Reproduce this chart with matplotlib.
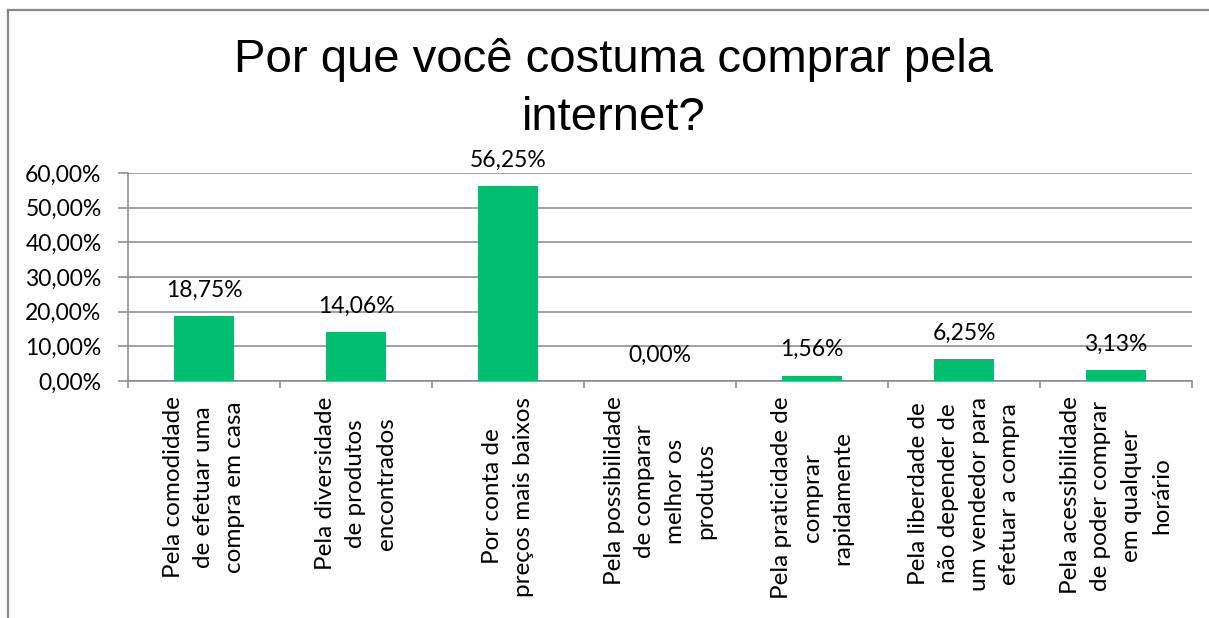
import numpy as np
import matplotlib
matplotlib.use("Agg")
import matplotlib.pyplot as plt
from matplotlib.lines import Line2D
from matplotlib.ticker import FuncFormatter

# dados do gráfico
categorias = [
    "Pela comodidade\nde efetuar uma\ncompra em casa",
    "Pela diversidade\nde produtos\nencontrados",
    "Por conta de\npreços mais baixos",
    "Pela possibilidade\nde comparar\nmelhor os\nprodutos",
    "Pela praticidade de\ncomprar\nrapidamente",
    "Pela liberdade de\nnão depender de\num vendedor para\nefetuar a compra",
    "Pela acessibilidade\nde poder comprar\nem qualquer\nhorário",
]
valores = [0.1875, 0.1406, 0.5625, 0.0, 0.0156, 0.0625, 0.0313]
rotulos = ["18,75%", "14,06%", "56,25%", "0,00%", "1,56%", "6,25%", "3,13%"]
titulo = "Por que você costuma comprar pela\ninternet?"

cor_barra = "#00BF6F"
cinza = "#868686"
fonte = ["Lato", "DejaVu Sans"]

fig = plt.figure(figsize=(12.09, 6.18), dpi=100)
ax = fig.add_axes([128 / 1209, 1 - 381 / 618, (1192 - 128) / 1209, (381 - 173) / 618])

x = np.arange(len(categorias))
ax.bar(x, valores, width=0.4, color=cor_barra, zorder=3)

# rótulos de dados
for xi, v, r in zip(x, valores, rotulos):
    ax.annotate(r, (xi, v), xytext=(0, 11), textcoords="offset points",
                ha="center", va="bottom", fontsize=16.5, family=fonte,
                color="#000000", annotation_clip=False)

ax.set_ylim(0, 0.6)
ax.set_xlim(-0.5, len(categorias) - 0.5)
ax.set_yticks(np.arange(0, 0.61, 0.1))
ax.yaxis.set_major_formatter(FuncFormatter(lambda v, p: f"{v * 100:.2f}%".replace(".", ",")))
ax.grid(axis="y", color=cinza, linewidth=1.1, zorder=0)
ax.tick_params(axis="y", length=7, width=1.1, color=cinza, labelsize=16.5, pad=12)
for lab in ax.get_yticklabels():
    lab.set_family(fonte)

# marcas do eixo x entre as categorias
ax.set_xticks(np.arange(-0.5, len(categorias)))
ax.set_xticklabels([])
ax.tick_params(axis="x", length=5, width=1.1, color=cinza)
for xi, c in zip(x, categorias):
    ax.text(xi, -0.045, c, rotation=90, ha="center", va="top", multialignment="center",
            fontsize=17.5, family=fonte, linespacing=1.55, clip_on=False)

for s in ["top", "right"]:
    ax.spines[s].set_visible(False)
for s in ["left", "bottom"]:
    ax.spines[s].set_color(cinza)
    ax.spines[s].set_linewidth(1.1)

fig.text(614 / 1209, 1 - 89 / 618, titulo, ha="center", va="center", fontsize=34,
         family="Liberation Sans", linespacing=1.4)

# moldura do gráfico
fig.add_artist(Line2D([7.5 / 1209, 1], [1 - 9.5 / 618] * 2, transform=fig.transFigure, color=cinza, lw=1.6))
fig.add_artist(Line2D([7.5 / 1209] * 2, [0, 1 - 9.5 / 618], transform=fig.transFigure, color=cinza, lw=1.6))

fig.savefig("out.png", dpi=100, facecolor="white")
